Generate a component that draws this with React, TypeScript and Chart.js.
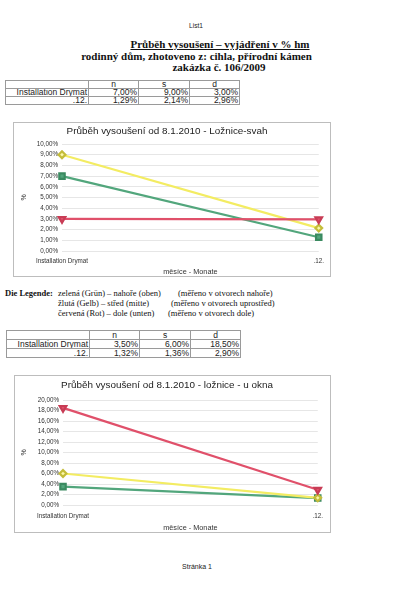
import React, { useEffect, useRef } from "react";
import { Chart, registerables } from "chart.js";

Chart.register(...registerables);

// ---- data ----
const categories = ["Installation Drymat", ".12."];
const columnKeys = ["n", "s", "d"];
const svahN = [7.0, 1.29];
const svahS = [9.0, 2.14];
const svahD = [3.0, 2.96];
const oknoN = [3.5, 1.32];
const oknoS = [6.0, 1.36];
const oknoD = [18.5, 2.9];
const svahYMax = 10;
const svahYStep = 1;
const oknoYMax = 20;
const oknoYStep = 2;
const chartTitle1 = "Průběh vysoušení od 8.1.2010 - Ložnice-svah";
const chartTitle2 = "Průběh vysoušení od 8.1.2010 - ložnice - u okna";
const xAxisTitle = "měsíce - Monate";
const yAxisTitle = "%";

const SANS = "'Liberation Sans', Arial, sans-serif";
const SERIF = "'Liberation Serif', 'Times New Roman', serif";

const GREEN = "#52a67c";
const YELLOW = "#f3ec62";
const RED = "#e0506a";

const fmt = (v: number) => v.toFixed(2).replace(".", ",") + "%";

type Area = { left: number; right: number; top: number; bottom: number };

function LineBox(props: {
  left: number; top: number; width: number; height: number;
  title: string; n: number[]; s: number[]; d: number[];
  yMax: number; yStep: number; area: Area; tickPad: number; yTitlePad: number;
}) {
  const ref = useRef<HTMLCanvasElement>(null);
  const cw = props.width - 2;
  const ch = props.height - 2;
  useEffect(() => {
    const a = props.area;
    const titleSize = 9.9;
    const lh = titleSize * 1.2;
    const titleCenter = a.top / 2 - 2.5;
    const pt = titleCenter - lh / 2;
    const pb = a.top - lh - pt;
    const chart = new Chart(ref.current!, {
      type: "line",
      data: {
        labels: categories,
        datasets: [
          {
            label: columnKeys[2], data: props.d, borderColor: RED, backgroundColor: RED,
            pointBackgroundColor: RED, pointBorderColor: "#c83c55", pointStyle: "triangle",
            pointRotation: 180, pointRadius: 3.8, borderWidth: 2.2, order: 0,
          },
          {
            label: columnKeys[1], data: props.s, borderColor: YELLOW, backgroundColor: YELLOW,
            pointBackgroundColor: "#fbf7a8", pointBorderColor: "#c4bd3a", pointStyle: "rectRot",
            pointRadius: 3.4, borderWidth: 2.2, order: 1,
          },
          {
            label: columnKeys[0], data: props.n, borderColor: GREEN, backgroundColor: GREEN,
            pointBackgroundColor: GREEN, pointBorderColor: "#3a8a60", pointStyle: "rect",
            pointRadius: 3.8, borderWidth: 2.2, order: 2,
          },
        ],
      },
      options: {
        responsive: false,
        animation: false,
        devicePixelRatio: 1,
        layout: { padding: { left: 0, right: cw - a.right, top: 0, bottom: 0 } },
        plugins: {
          legend: { display: false },
          tooltip: { enabled: false },
          title: {
            display: true, text: props.title, color: "#222",
            font: { family: SANS, size: titleSize, weight: "normal" },
            padding: { top: pt, bottom: pb },
          },
        },
        scales: {
          x: {
            offset: false,
            grid: { display: false, drawTicks: false },
            border: { display: false },
            ticks: { font: { family: SANS, size: 6.3 }, color: "#333", padding: props.tickPad, maxRotation: 0, autoSkip: false },
            title: { display: true, text: xAxisTitle, color: "#333", font: { family: SANS, size: 7.3 }, padding: { top: 0, bottom: 0 } },
            afterFit: (sc: any) => { sc.height = ch - a.bottom; },
          },
          y: {
            min: 0, max: props.yMax,
            ticks: { stepSize: props.yStep, autoSkip: false, callback: (v: any) => fmt(Number(v)), font: { family: SANS, size: 6.3 }, color: "#333", padding: 4 },
            grid: { color: "#e6e6e6", drawTicks: false, lineWidth: 1 },
            border: { display: false },
            title: { display: true, text: yAxisTitle, color: "#333", font: { family: SANS, size: 7 }, padding: { top: props.yTitlePad, bottom: 0 } },
            afterFit: (sc: any) => { sc.width = a.left; },
          },
        },
      } as any,
    });
    return () => chart.destroy();
  }, []);
  return (
    <div style={{ position: "absolute", left: props.left, top: props.top, width: props.width, height: props.height, boxSizing: "border-box", border: "1px solid #bdbdbd", background: "#fff" }}>
      <canvas ref={ref} width={cw} height={ch} style={{ display: "block", width: cw, height: ch }} />
    </div>
  );
}

function DataTable(props: { left: number; top: number; rowH: number; n: number[]; s: number[]; d: number[] }) {
  const widths = [83, 50, 51, 50];
  const cell: React.CSSProperties = {
    border: "1px solid #9a9a9a", padding: "0 1px", height: props.rowH, lineHeight: props.rowH + "px",
    fontFamily: SANS, fontSize: 8.5, color: "#222", textAlign: "right", whiteSpace: "nowrap", overflow: "hidden",
  };
  return (
    <table style={{ position: "absolute", left: props.left, top: props.top, borderCollapse: "collapse", tableLayout: "fixed", width: widths.reduce((p, c) => p + c, 0) }}>
      <colgroup>{widths.map((w, i) => <col key={i} style={{ width: w }} />)}</colgroup>
      <tbody>
        <tr>
          <td style={cell}></td>
          {columnKeys.map((k) => <td key={k} style={{ ...cell, textAlign: "center" }}>{k}</td>)}
        </tr>
        {categories.map((c, i) => (
          <tr key={c}>
            <td style={cell}>{c}</td>
            <td style={cell}>{fmt(props.n[i])}</td>
            <td style={cell}>{fmt(props.s[i])}</td>
            <td style={cell}>{fmt(props.d[i])}</td>
          </tr>
        ))}
      </tbody>
    </table>
  );
}

const abs = (left: number, top: number, extra: React.CSSProperties = {}): React.CSSProperties => ({
  position: "absolute", left, top, whiteSpace: "nowrap", ...extra,
});

export default function App() {
  const head: React.CSSProperties = { fontFamily: SERIF, fontWeight: "bold", fontSize: 11, lineHeight: "12px", color: "#111", transform: "translateX(-50%)" };
  const leg: React.CSSProperties = { fontFamily: SERIF, fontSize: 8.5, lineHeight: "10px", color: "#111" };
  return (
    <div style={{ position: "absolute", left: 0, top: 0, width: 396, height: 600, background: "#fff", overflow: "hidden" }}>
      <div style={abs(196, 22, { fontFamily: SANS, fontSize: 6.6, lineHeight: "8px", color: "#222", transform: "translateX(-50%)" })}>List1</div>
      <div style={abs(220, 38, { ...head, textDecoration: "underline" })}>Průběh vysoušení – vyjádření v % hm</div>
      <div style={abs(196.5, 49.5, head)}>rodinný dům, zhotoveno z: cihla, přírodní kámen</div>
      <div style={abs(219, 60.5, head)}>zakázka č. 106/2009</div>

      <DataTable left={5} top={80} rowH={7} n={svahN} s={svahS} d={svahD} />

      <LineBox left={13} top={122} width={318} height={155} title={chartTitle1}
        n={svahN} s={svahS} d={svahD} yMax={svahYMax} yStep={svahYStep}
        area={{ left: 48, right: 306, top: 21, bottom: 128 }} tickPad={6} yTitlePad={6} />

      <div style={abs(5, 288, { ...leg, fontWeight: "bold" })}>Die Legende:</div>
      <div style={abs(58, 288, leg)}>zelená (Grün) – nahoře (oben)</div>
      <div style={abs(178, 288, leg)}>(měřeno v otvorech nahoře)</div>
      <div style={abs(58, 298, leg)}>žlutá (Gelb) – střed (mitte)</div>
      <div style={abs(171, 298, leg)}>(měřeno v otvorech uprostřed)</div>
      <div style={abs(58, 307.5, leg)}>červená (Rot) – dole (unten)</div>
      <div style={abs(168, 307.5, leg)}>(měřeno v otvorech dole)</div>

      <DataTable left={6} top={330} rowH={8} n={oknoN} s={oknoS} d={oknoD} />

      <LineBox left={14} top={375} width={317} height={158} title={chartTitle2}
        n={oknoN} s={oknoS} d={oknoD} yMax={oknoYMax} yStep={oknoYStep}
        area={{ left: 48, right: 304, top: 24, bottom: 129 }} tickPad={7} yTitlePad={5} />

      <div style={abs(197, 562, { fontFamily: SANS, fontSize: 7, lineHeight: "9px", color: "#222", transform: "translateX(-50%)" })}>Stránka 1</div>
    </div>
  );
}
